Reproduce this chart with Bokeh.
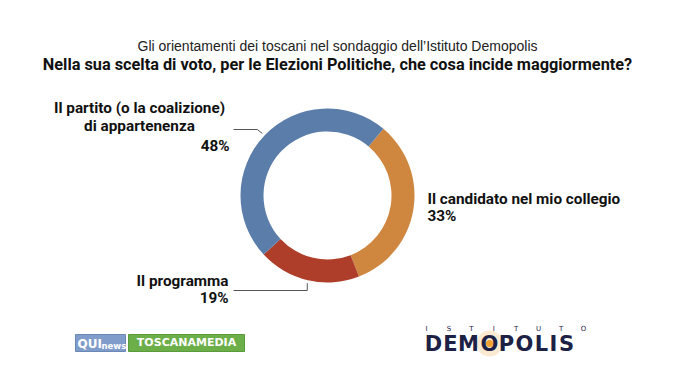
import math
from bokeh.plotting import figure
from bokeh.models import Range1d
from bokeh.core.properties import value
from bokeh.embed import file_html
from bokeh.resources import INLINE

# ---- data ----
categories = ["Il candidato nel mio collegio", "Il programma", "Il partito (o la coalizione) di appartenenza"]
shares = [33, 19, 48]
colors = ["#cf863f", "#ae3e2a", "#5a7daa"]
pct_labels = ["33%", "19%", "48%"]

subtitle = "Gli orientamenti dei toscani nel sondaggio dell\u2019Istituto Demopolis"
title = "Nella sua scelta di voto, per le Elezioni Politiche, che cosa incide maggiormente?"

W, H = 659, 364
p = figure(width=W, height=H, output_backend="svg", toolbar_location=None,
           x_range=Range1d(0, W), y_range=Range1d(380 - H, 380),
           min_border=0, outline_line_color=None)
p.axis.visible = False
p.grid.visible = False
p.background_fill_color = "#ffffff"
p.border_fill_color = "#ffffff"

def Y(y):
    return 380 - y

BOLDF = "Roboto"

# ---- donut ----
cx, cy = 327, Y(195)
r_out, r_in = 87, 64
start_deg = 50.0  # math angle where first slice starts, going clockwise
total = float(sum(shares))
starts, ends, mids = [], [], []
a = start_deg
for s in shares:
    span = 360.0 * s / total
    starts.append(math.radians(a))
    ends.append(math.radians(a - span))
    mids.append(math.radians(a - span / 2))
    a -= span

p.annular_wedge(x=[cx] * 3, y=[cy] * 3, inner_radius=r_in, outer_radius=r_out,
                start_angle=starts, end_angle=ends, direction="clock",
                fill_color=colors, line_color=None)

# ---- titles ----
p.text(x=[337], y=[Y(45)], text=[subtitle], text_align="center", text_baseline="middle",
       text_font=value("Liberation Sans"), text_font_size="14px", text_color="#222222")
p.text(x=[337], y=[Y(64)], text=[title], text_align="center", text_baseline="middle",
       text_font=value(BOLDF), text_font_style="bold", text_font_size="16.3px", text_color="#111111")

lab_kw = dict(text_baseline="middle", text_font=value(BOLDF), text_font_style="bold",
              text_font_size="15.3px", text_color="#111111")

# blue label
p.text(x=[139], y=[Y(107)], text=["Il partito (o la coalizione)"], text_align="center", **lab_kw)
p.text(x=[139], y=[Y(125)], text=["di appartenenza"], text_align="center", **lab_kw)
p.text(x=[229], y=[Y(145)], text=[pct_labels[2]], text_align="right", **lab_kw)
# orange label
p.text(x=[427], y=[Y(198)], text=["Il candidato nel mio collegio"], text_align="left", **lab_kw)
p.text(x=[427], y=[Y(215)], text=[pct_labels[0]], text_align="left", **lab_kw)
# red label
p.text(x=[228], y=[Y(280)], text=["Il programma"], text_align="right", **lab_kw)
p.text(x=[228], y=[Y(297)], text=[pct_labels[1]], text_align="right", **lab_kw)

# leader lines
rl = r_out + 3
bx, by = cx + rl * math.cos(mids[2]), cy + rl * math.sin(mids[2])
p.line(x=[233, bx - 5, bx], y=[Y(129), Y(129), by], line_color="#555555", line_width=1)
rx, ry = cx + rl * math.cos(mids[1]), cy + rl * math.sin(mids[1])
p.line(x=[233, rx, rx], y=[Y(290), Y(290), ry], line_color="#555555", line_width=1)

# ---- logos ----
p.quad(left=[75], right=[125], top=[Y(334)], bottom=[Y(351)], fill_color="#7f9ccb",
       line_color="#6c88b5")
p.text(x=[77], y=[Y(343)], text=["QUI"], text_align="left", text_baseline="middle",
       text_font=value("DejaVu Sans"), text_font_style="bold", text_font_size="12px", text_color="white")
p.text(x=[101], y=[Y(345)], text=["news"], text_align="left", text_baseline="middle",
       text_font=value("DejaVu Sans"), text_font_style="bold", text_font_size="8.5px", text_color="white")
p.quad(left=[128], right=[244], top=[Y(334)], bottom=[Y(351)], fill_color="#6cae48",
       line_color="#5a9a3a")
p.text(x=[186], y=[Y(342)], text=["TOSCANAMEDIA"], text_align="center", text_baseline="middle",
       text_font=value("DejaVu Sans"), text_font_style="bold", text_font_size="11px", text_color="white")

p.scatter(x=[489], y=[Y(343)], size=26, fill_color="#f3c27a", fill_alpha=0.35, line_color=None)
small = list("ISTITUTO")
small_x = [426 + i * (583 - 426) / 7 for i in range(8)]
p.text(x=small_x, y=[Y(328)] * 8, text=small, text_align="center", text_baseline="middle",
       text_font=value("DejaVu Sans"), text_font_size="7px", text_color="#1c2145")
big = list("DEMOPOLIS")
big_x = [433, 450, 468, 489, 506, 524, 541, 553, 566]
p.text(x=big_x, y=[Y(343)] * 9, text=big, text_align="center", text_baseline="middle",
       text_font=value("DejaVu Sans"), text_font_style="bold", text_font_size="21px", text_color="#1c2145")
p.scatter(x=[489], y=[Y(343)], size=7, fill_color="#f0a030", line_color=None)

open("out.html", "w").write(file_html(p, INLINE))
